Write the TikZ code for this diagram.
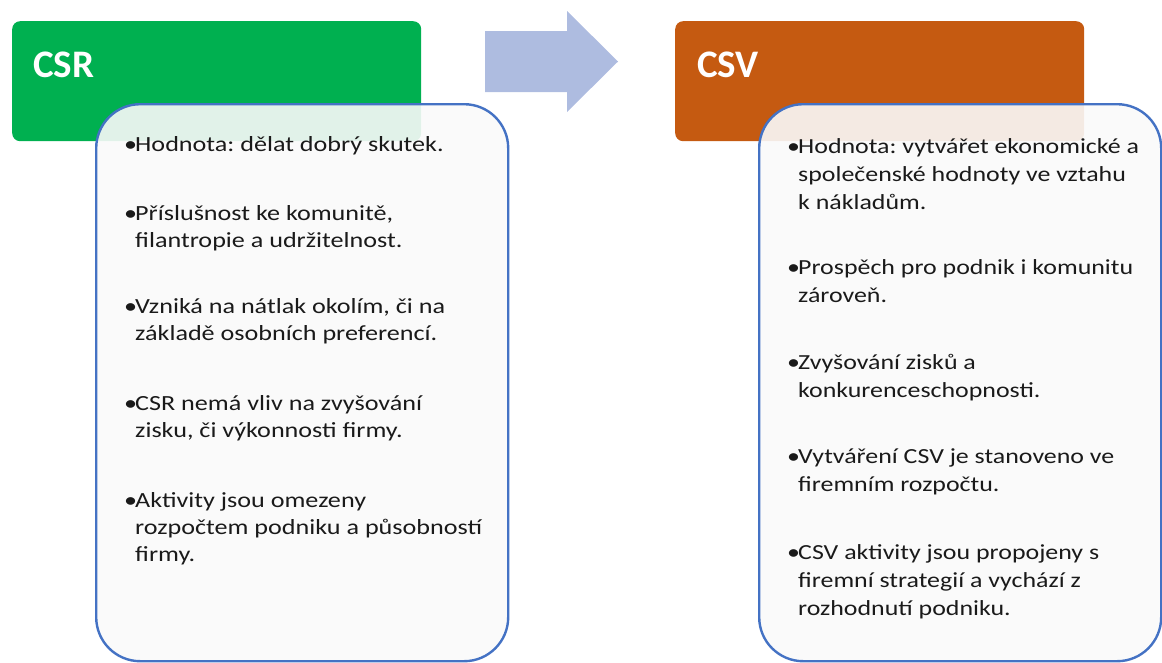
\documentclass[tikz,border=0pt]{standalone}
\usepackage{fontspec}
\setmainfont{Carlito}
\newfontfamily\csrfont[FakeStretch=1.21]{Carlito}
\newfontfamily\csvfont[FakeStretch=1.205]{Carlito}

\definecolor{csrgreen}{HTML}{00B050}
\definecolor{csvorange}{HTML}{C55A11}
\definecolor{boxblue}{HTML}{4472C4}
\definecolor{arrowblue}{HTML}{AEBCE0}
\definecolor{textdark}{HTML}{1A1A1A}

\tikzset{
  header/.style={fill=#1, rounded corners=8pt, draw=none, inner sep=0pt,
    minimum width=409pt, minimum height=120pt, anchor=north west},
  title/.style={anchor=base west, inner sep=0pt, text=white,
    font=\fontsize{39}{46}\selectfont\bfseries},
  listbox/.style={draw=boxblue, line width=2.4pt, rounded corners=44pt,
    fill=white!98!black, fill opacity=0.9, inner sep=0pt, anchor=north west,
    minimum width=412pt, minimum height=557pt},
  itemtext/.style={anchor=base west, inner sep=0pt, text=textdark},
  csritem/.style={itemtext, font=\csrfont\fontsize{21.6}{27.4}\selectfont},
  csvitem/.style={itemtext, font=\csvfont\fontsize{21.5}{28.2}\selectfont},
}

% a bullet entry: lines stacked at a fixed pitch, baseline on the first line
\newcommand{\entrybox}[1]{\vtop{\lineskiplimit=-100pt\relax\frenchspacing #1}}
\newcommand{\firstline}[1]{\hbox{\makebox[11pt][l]{•}#1}}
\newcommand{\nextline}[1]{\hbox{\hspace*{11pt}#1}}

\begin{document}
\begin{tikzpicture}[x=1pt,y=-1pt]
\useasboundingbox (0,0) rectangle (1162,662);

% coloured headers
\node[header=csrgreen]  (csrhead) at (12,21)  {};
\node[header=csvorange] (csvhead) at (675,21) {};
\node[title] (csrtitle) at (33,77)  {CSR};
\node[title] (csvtitle) at (697,77) {CSV};

% block arrow between the two headers
\fill[arrowblue] (485,31) -- (567,31) -- (567,11) -- (618,61.5)
  -- (567,112) -- (567,92) -- (485,92) -- cycle;

% content panels
\node[listbox] (csrbox) at (95,103)  {};
\node[listbox, minimum width=402pt] (csvbox) at (758,103) {};

% CSR items
\begin{scope}[every node/.style={csritem}]
\node (l1) at (124,151) {\entrybox{\firstline{Hodnota: dělat dobrý skutek.}}};
\node (l2) at (124,220) {\entrybox{\firstline{Příslušnost ke komunitě,}\nextline{filantropie a udržitelnost.}}};
\node (l3) at (124,313) {\entrybox{\firstline{Vzniká na nátlak okolím, či na}\nextline{základě osobních preferencí.}}};
\node (l4) at (124,410) {\entrybox{\firstline{CSR nemá vliv na zvyšování}\nextline{zisku, či výkonnosti firmy.}}};
\node (l5) at (124,507) {\entrybox{\firstline{Aktivity jsou omezeny}\nextline{rozpočtem podniku a působností}\nextline{firmy.}}};
\end{scope}

% CSV items
\begin{scope}[every node/.style={csvitem}]
\node (r1) at (787,153) {\entrybox{\firstline{Hodnota: vytvářet ekonomické a}\nextline{společenské hodnoty ve vztahu}\nextline{k nákladům.}}};
\node (r2) at (787,274) {\entrybox{\firstline{Prospěch pro podnik i komunitu}\nextline{zároveň.}}};
\node (r3) at (787,369) {\entrybox{\firstline{Zvyšování zisků a}\nextline{konkurenceschopnosti.}}};
\node (r4) at (787,463) {\entrybox{\firstline{Vytváření CSV je stanoveno ve}\nextline{firemním rozpočtu.}}};
\node (r5) at (787,559) {\entrybox{\firstline{CSV aktivity jsou propojeny s}\nextline{firemní strategií a vychází z}\nextline{rozhodnutí podniku.}}};
\end{scope}
\end{tikzpicture}
\end{document}
